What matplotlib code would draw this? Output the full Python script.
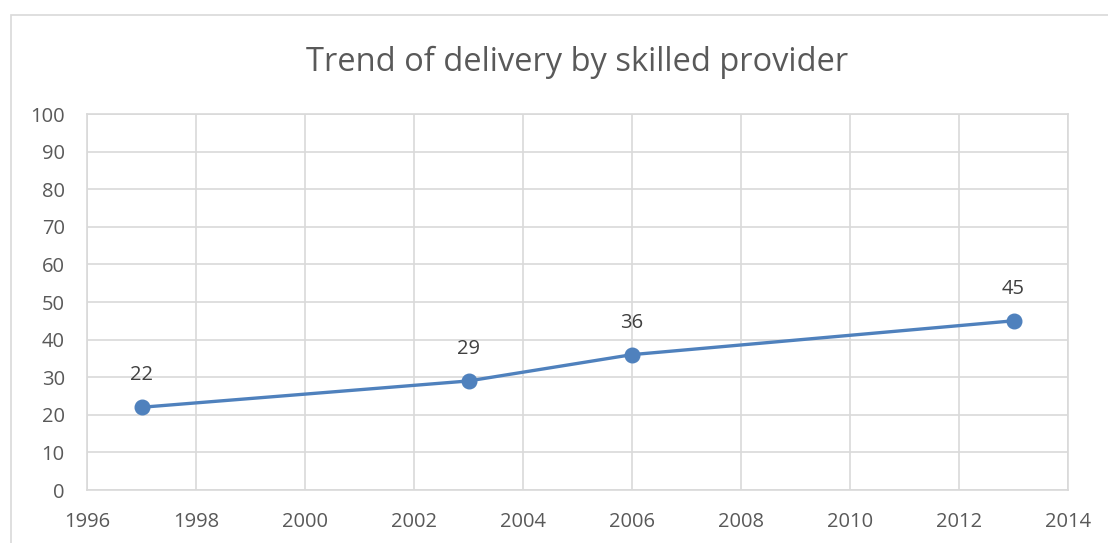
import matplotlib.pyplot as plt
from matplotlib.patches import Rectangle

years = [1997, 2003, 2006, 2013]
values = [22, 29, 36, 45]
x_ticks = [1996, 1998, 2000, 2002, 2004, 2006, 2008, 2010, 2012, 2014]
y_ticks = [0, 10, 20, 30, 40, 50, 60, 70, 80, 90, 100]

plt.rcParams['font.family'] = ['Open Sans', 'DejaVu Sans']

fig = plt.figure(figsize=(11.08, 5.43), dpi=100)
ax = fig.add_axes([87 / 1108, 1 - 490 / 543, (1068 - 87) / 1108, (490 - 114) / 543])

# outer chart border
fig.patches.append(Rectangle((11 / 1108, -0.1), 1.2, 1 - 15 / 543 + 0.1,
                             transform=fig.transFigure, fill=False,
                             edgecolor='#d9d9d9', linewidth=1.2))

ax.plot(years, values, '-o', color='#4f81bd', linewidth=2.4,
        markersize=10.5, zorder=3)
for x, y in zip(years, values):
    ax.annotate(str(y), (x, y), xytext=(0, 23), textcoords='offset points',
                ha='center', va='center', fontsize=14.5, color='#404040')

ax.set_xlim(1996, 2014)
ax.set_ylim(0, 100)
ax.set_xticks(x_ticks)
ax.set_yticks(y_ticks)
ax.grid(True, color='#d9d9d9', linewidth=1.2)
ax.set_axisbelow(True)
for s in ax.spines.values():
    s.set_color('#d9d9d9')
    s.set_linewidth(1.2)
ax.tick_params(length=0, labelsize=14.5, labelcolor='#595959')
ax.tick_params(axis='y', pad=16)
ax.tick_params(axis='x', pad=16)

fig.text((87 + 1068) / 2 / 1108, 1 - 62 / 543, 'Trend of delivery by skilled provider',
         ha='center', va='center', fontsize=23.5, color='#595959')

fig.savefig('out.png', dpi=100)
